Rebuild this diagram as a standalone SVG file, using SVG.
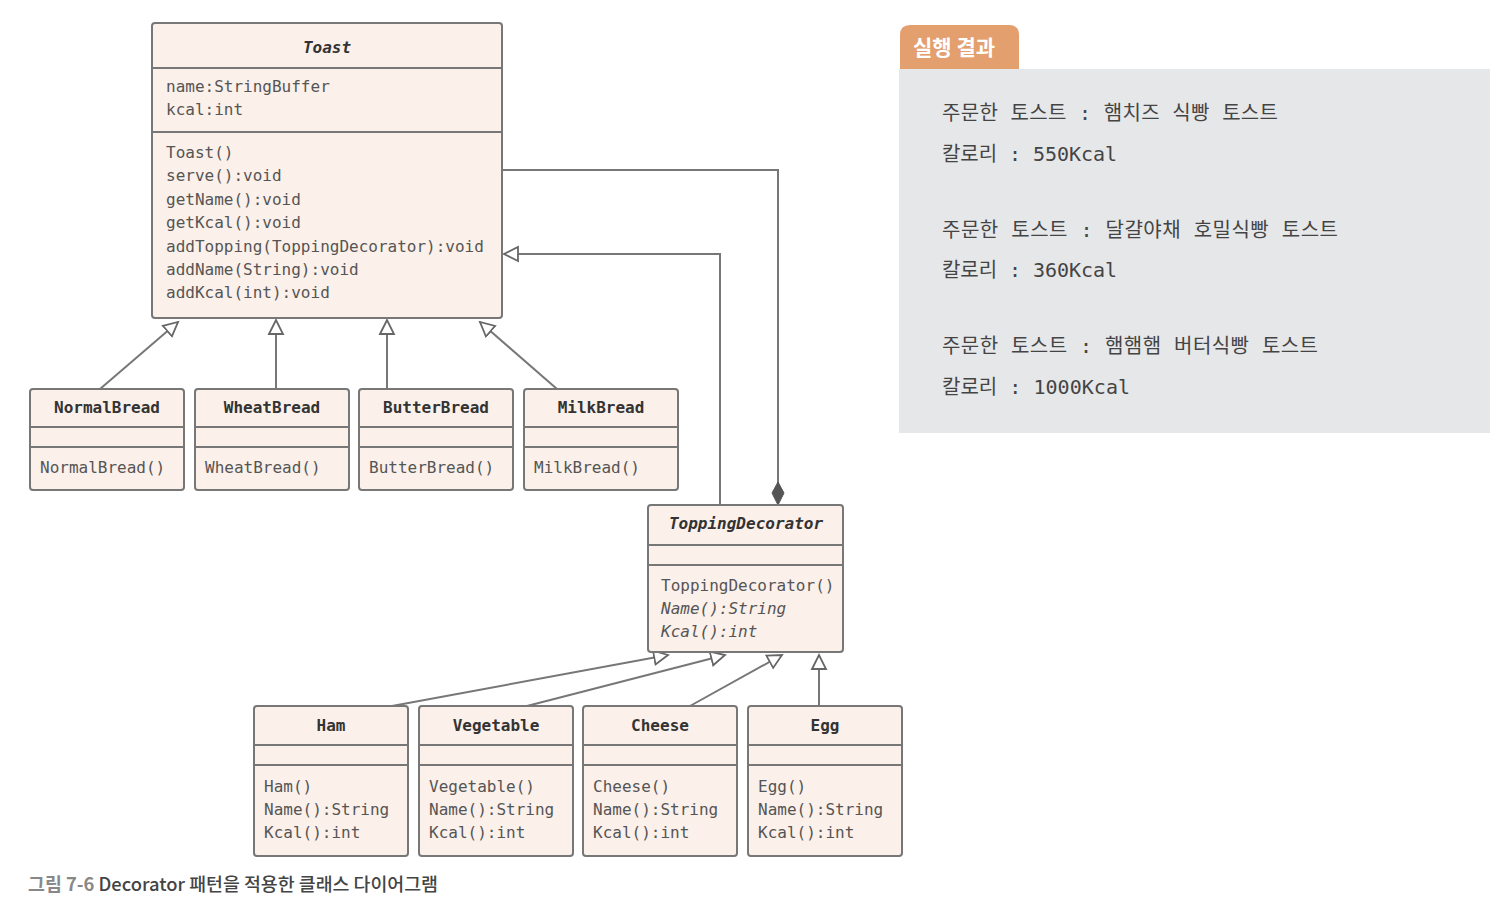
<svg xmlns="http://www.w3.org/2000/svg" width="1510" height="906" viewBox="0 0 1510 906">
<style>
.box{fill:#fbf0ea;stroke:#777;stroke-width:2}
.sep{stroke:#777;stroke-width:2}
.t{font-family:"DejaVu Sans Mono","Liberation Mono",monospace;font-size:16px;fill:#333;font-weight:bold;text-anchor:middle}
.m{font-family:"DejaVu Sans Mono","Liberation Mono",monospace;font-size:16px;fill:#555}
.i{font-style:italic}
.con{fill:none;stroke:#777;stroke-width:2}
.res{font-family:"DejaVu Sans Mono","Noto Sans CJK KR",monospace;font-size:20px;fill:#444}
</style>
<defs>
<marker id="tri" markerUnits="userSpaceOnUse" markerWidth="18" markerHeight="18" refX="15" refY="8" orient="auto" viewBox="0 0 18 16">
<path d="M1,1 L15,8 L1,15 Z" fill="#fff" stroke="#666" stroke-width="1.8"/>
</marker>
<marker id="dia" markerUnits="userSpaceOnUse" markerWidth="26" markerHeight="14" refX="24" refY="7" orient="auto" viewBox="0 0 26 14">
<path d="M1,7 L12,1 L24,7 L12,13 Z" fill="#555" stroke="#555" stroke-width="1"/>
</marker>
</defs>
<rect width="1510" height="906" fill="#fff"/>

<g id="connectors">
<path class="con" d="M100,389 L178,322" marker-end="url(#tri)"/>
<path class="con" d="M276,389 L276,320" marker-end="url(#tri)"/>
<path class="con" d="M387,389 L387,320" marker-end="url(#tri)"/>
<path class="con" d="M557,389 L480,322" marker-end="url(#tri)"/>
<path class="con" d="M503,170 H778 V505" marker-end="url(#dia)"/>
<path class="con" d="M720,505 V254 H504" marker-end="url(#tri)"/>
<path class="con" d="M392,706 L668,655" marker-end="url(#tri)"/>
<path class="con" d="M527,706 L725,655" marker-end="url(#tri)"/>
<path class="con" d="M690,706 L782,655" marker-end="url(#tri)"/>
<path class="con" d="M819,706 L819,655" marker-end="url(#tri)"/>
</g>

<g id="Toast">
<rect class="box" x="152" y="23" width="350" height="295" rx="3"/>
<line class="sep" x1="152" y1="68" x2="502" y2="68"/>
<line class="sep" x1="152" y1="132" x2="502" y2="132"/>
<text class="t i" x="327" y="53">Toast</text>
<text class="m" x="166" y="92">name:StringBuffer</text>
<text class="m" x="166" y="115">kcal:int</text>
<text class="m" x="166" y="158">Toast()</text>
<text class="m" x="166" y="181">serve():void</text>
<text class="m" x="166" y="205">getName():void</text>
<text class="m" x="166" y="228">getKcal():void</text>
<text class="m" x="166" y="252">addTopping(ToppingDecorator):void</text>
<text class="m" x="166" y="275">addName(String):void</text>
<text class="m" x="166" y="298">addKcal(int):void</text>
</g>

<g id="NormalBread">
<rect class="box" x="30" y="389" width="154" height="101" rx="3"/>
<line class="sep" x1="30" y1="427" x2="184" y2="427"/>
<line class="sep" x1="30" y1="447" x2="184" y2="447"/>
<text class="t" x="107" y="413">NormalBread</text>
<text class="m" x="40" y="473">NormalBread()</text>
</g>
<g id="WheatBread">
<rect class="box" x="195" y="389" width="154" height="101" rx="3"/>
<line class="sep" x1="195" y1="427" x2="349" y2="427"/>
<line class="sep" x1="195" y1="447" x2="349" y2="447"/>
<text class="t" x="272" y="413">WheatBread</text>
<text class="m" x="205" y="473">WheatBread()</text>
</g>
<g id="ButterBread">
<rect class="box" x="359" y="389" width="154" height="101" rx="3"/>
<line class="sep" x1="359" y1="427" x2="513" y2="427"/>
<line class="sep" x1="359" y1="447" x2="513" y2="447"/>
<text class="t" x="436" y="413">ButterBread</text>
<text class="m" x="369" y="473">ButterBread()</text>
</g>
<g id="MilkBread">
<rect class="box" x="524" y="389" width="154" height="101" rx="3"/>
<line class="sep" x1="524" y1="427" x2="678" y2="427"/>
<line class="sep" x1="524" y1="447" x2="678" y2="447"/>
<text class="t" x="601" y="413">MilkBread</text>
<text class="m" x="534" y="473">MilkBread()</text>
</g>

<g id="ToppingDecorator">
<rect class="box" x="648" y="505" width="195" height="147" rx="3"/>
<line class="sep" x1="648" y1="545" x2="843" y2="545"/>
<line class="sep" x1="648" y1="565" x2="843" y2="565"/>
<text class="t i" x="746" y="529">ToppingDecorator</text>
<text class="m" x="661" y="591">ToppingDecorator()</text>
<text class="m i" x="661" y="614">Name():String</text>
<text class="m i" x="661" y="637">Kcal():int</text>
</g>

<g id="Ham">
<rect class="box" x="254" y="706" width="154" height="150" rx="3"/>
<line class="sep" x1="254" y1="745" x2="408" y2="745"/>
<line class="sep" x1="254" y1="765" x2="408" y2="765"/>
<text class="t" x="331" y="731">Ham</text>
<text class="m" x="264" y="792">Ham()</text>
<text class="m" x="264" y="815">Name():String</text>
<text class="m" x="264" y="838">Kcal():int</text>
</g>
<g id="Vegetable">
<rect class="box" x="419" y="706" width="154" height="150" rx="3"/>
<line class="sep" x1="419" y1="745" x2="573" y2="745"/>
<line class="sep" x1="419" y1="765" x2="573" y2="765"/>
<text class="t" x="496" y="731">Vegetable</text>
<text class="m" x="429" y="792">Vegetable()</text>
<text class="m" x="429" y="815">Name():String</text>
<text class="m" x="429" y="838">Kcal():int</text>
</g>
<g id="Cheese">
<rect class="box" x="583" y="706" width="154" height="150" rx="3"/>
<line class="sep" x1="583" y1="745" x2="737" y2="745"/>
<line class="sep" x1="583" y1="765" x2="737" y2="765"/>
<text class="t" x="660" y="731">Cheese</text>
<text class="m" x="593" y="792">Cheese()</text>
<text class="m" x="593" y="815">Name():String</text>
<text class="m" x="593" y="838">Kcal():int</text>
</g>
<g id="Egg">
<rect class="box" x="748" y="706" width="154" height="150" rx="3"/>
<line class="sep" x1="748" y1="745" x2="902" y2="745"/>
<line class="sep" x1="748" y1="765" x2="902" y2="765"/>
<text class="t" x="825" y="731">Egg</text>
<text class="m" x="758" y="792">Egg()</text>
<text class="m" x="758" y="815">Name():String</text>
<text class="m" x="758" y="838">Kcal():int</text>
</g>

<g id="result">
<path d="M900,69 V35 Q900,25 910,25 H1009 Q1019,25 1019,35 V69 Z" fill="#e3a06e"/>
<text x="913" y="55" font-family="'Noto Sans CJK KR',sans-serif" font-size="21" font-weight="bold" fill="#fff">실행 결과</text>
<rect x="899" y="69" width="591" height="364" fill="#e6e7e9"/>
<text class="res" x="942" y="120" textLength="336" lengthAdjust="spacing">주문한 토스트 : 햄치즈 식빵 토스트</text>
<text class="res" x="942" y="161" textLength="175" lengthAdjust="spacing">칼로리 : 550Kcal</text>
<text class="res" x="942" y="237" textLength="396" lengthAdjust="spacing">주문한 토스트 : 달걀야채 호밀식빵 토스트</text>
<text class="res" x="942" y="277" textLength="175" lengthAdjust="spacing">칼로리 : 360Kcal</text>
<text class="res" x="942" y="353" textLength="376" lengthAdjust="spacing">주문한 토스트 : 햄햄햄 버터식빵 토스트</text>
<text class="res" x="942" y="394" textLength="188" lengthAdjust="spacing">칼로리 : 1000Kcal</text>
</g>

<g id="caption">
<text x="28" y="891" font-family="'Noto Sans CJK KR',sans-serif" font-size="18" textLength="410" lengthAdjust="spacingAndGlyphs"><tspan fill="#888" font-weight="bold">그림 7-6</tspan><tspan fill="#444" font-weight="500"> Decorator 패턴을 적용한 클래스 다이어그램</tspan></text>
</g>
</svg>
